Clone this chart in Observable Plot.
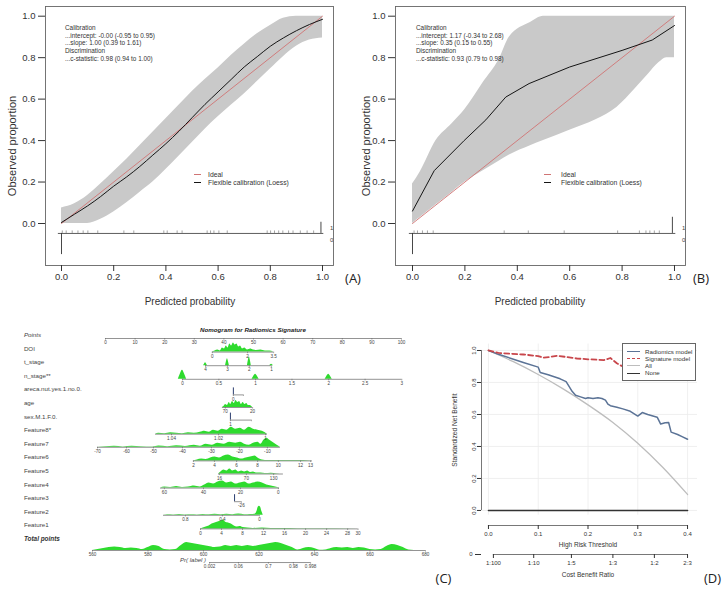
<!DOCTYPE html>
<html><head><meta charset="utf-8">
<script src="https://cdn.jsdelivr.net/npm/d3@7"></script>
<script src="https://cdn.jsdelivr.net/npm/@observablehq/plot@0.6"></script>
<style>
body{margin:0;background:#fff;}
#root{position:relative;width:724px;height:594px;overflow:hidden;font-family:"Liberation Sans",Arial,"DejaVu Sans",sans-serif;color:#333;background:#fff;}
#root svg{overflow:visible;}
</style></head><body><div id="root"></div>
<script>
const FONT = '"Liberation Sans", Arial, "DejaVu Sans", sans-serif';

// ---------- Panel A / B : calibration data ----------
const idealLine = [[0,0],[1,1]];
const calAx     = [0,0.05,0.1,0.15,0.2,0.25,0.3,0.35,0.4,0.45,0.5,0.55,0.6,0.65,0.7,0.75,0.8,0.85,0.9,0.95,1];
const calAloess = [0.005,0.045,0.085,0.13,0.18,0.225,0.275,0.33,0.385,0.445,0.51,0.575,0.635,0.695,0.755,0.805,0.855,0.895,0.93,0.96,0.985];
const calAhi    = [0.075,0.095,0.135,0.19,0.25,0.31,0.375,0.44,0.505,0.57,0.635,0.695,0.75,0.81,0.865,0.915,0.955,0.99,1,1,1];
const calAlo    = [0,0,0,0.02,0.055,0.1,0.15,0.2,0.26,0.325,0.39,0.455,0.515,0.57,0.625,0.685,0.745,0.805,0.855,0.885,0.895];
const rugA      = [0.003,0.018,0.041,0.063,0.083,0.101,0.139,0.239,0.277,0.392,0.405,0.443,0.462,0.558,0.571,0.584,0.603,0.635,0.788,0.801,0.816,0.832,0.848,0.87,0.887,0.915,0.941,0.966];

const calBx     = [0,0.03,0.09,0.15,0.2,0.27,0.33,0.37,0.45,0.5,0.6,0.7,0.78,0.85,0.9,0.94,0.97,1];
const calBhi    = [0.19,0.25,0.40,0.48,0.55,0.68,0.79,0.90,0.97,1,1,1,1,1,1,1,1,1];
const calBlo    = [0,0.03,0.09,0.15,0.2,0.255,0.30,0.33,0.375,0.40,0.45,0.50,0.56,0.65,0.72,0.775,0.80,0.80];
const calBlx    = [0,0.083,0.197,0.28,0.356,0.445,0.6,0.8,0.915,1];
const calBloess = [0.06,0.255,0.40,0.50,0.61,0.675,0.755,0.835,0.885,0.955];
const rugB      = [0.006,0.019,0.038,0.057,0.079,0.35,0.442,0.579,0.783,0.866,0.891,0.906,0.923,0.942];

const calTicks = [0,0.2,0.4,0.6,0.8,1];
const annA = ["Calibration","...intercept: -0.00 (-0.95 to 0.95)","...slope: 1.00 (0.39 to 1.61)","Discrimination","...c-statistic: 0.98 (0.94 to 1.00)"];
const annB = ["Calibration","...intercept: 1.17 (-0.34 to 2.68)","...slope: 0.35 (0.15 to 0.55)","Discrimination","...c-statistic: 0.93 (0.79 to 0.98)"];
const calLegend = ["Ideal","Flexible calibration (Loess)"];

// ---------- Panel D : decision curves ----------
const radiomicsNB = [[0,1],[0.02,0.976],[0.044,0.952],[0.07,0.925],[0.1,0.896],[0.104,0.862],[0.12,0.848],[0.144,0.823],[0.156,0.805],[0.161,0.78],[0.168,0.745],[0.175,0.72],[0.185,0.71],[0.195,0.70],[0.2,0.705],[0.21,0.70],[0.22,0.705],[0.228,0.70],[0.235,0.69],[0.24,0.665],[0.245,0.655],[0.258,0.645],[0.27,0.635],[0.285,0.62],[0.3,0.59],[0.309,0.612],[0.32,0.60],[0.339,0.583],[0.346,0.54],[0.355,0.548],[0.362,0.55],[0.367,0.49],[0.38,0.475],[0.39,0.46],[0.4,0.445]];
const signatureNB = [[0,1],[0.02,0.985],[0.044,0.98],[0.07,0.975],[0.1,0.965],[0.11,0.955],[0.125,0.96],[0.138,0.967],[0.155,0.96],[0.178,0.95],[0.2,0.945],[0.232,0.94],[0.245,0.953],[0.258,0.92],[0.27,0.9],[0.28,0.88]];
const allNB = [[0,1],[0.05,0.93],[0.1,0.85],[0.15,0.76],[0.2,0.66],[0.25,0.55],[0.3,0.42],[0.35,0.27],[0.4,0.1]];
const noneNB = [[0,0],[0.4,0]];
const thrTicks = [0,0.1,0.2,0.3,0.4];
const nbTicks = [0,0.2,0.4,0.6,0.8,1];
const cbLabels = ["1:100","1:10","1:5","1:3","1:2","2:3"];
const dcaLegend = ["Radiomics model","Signature model","All","None"];

// ---------- Panel C : nomogram ----------
const nomoRows = ["Points","DOI","t_stage","n_stage**","areca.nut.yes.1.no.0.","age","sex.M.1.F.0.","Feature8*","Feature7","Feature6","Feature5","Feature4","Feature3","Feature2","Feature1","Total points"];
const axPoints = [["0",0],["10",10],["20",20],["30",30],["40",40],["50",50],["60",60],["70",70],["80",80],["90",90],["100",100]];
const axDOI   = [["0",36.1],["2",48.0],["3.5",56.8]];
const axT     = [["4",33.8],["3",41.2],["2",48.6],["1",56.1]];
const axN     = [["0",26.0],["0.5",38.3],["1",50.7],["1.5",63.0],["2",75.4],["2.5",87.7],["3",100.1]];
const axAreca = [["0",43.2],["",46.6]];
const axAge   = [["70",40.5],["20",49.7]];
const axSex   = [["1",42.2],["",49.3]];
const axF8    = [["1.04",22.3],["1.02",38.2],["1",54.1]];
const axF7    = [["-70",-2.7],["-60",7.1],["-50",16.2],["-40",26.0],["-30",35.8],["-20",45.3],["-10",54.7]];
const axF6    = [["2",29.7],["4",36.8],["6",44.3],["8",51.4],["10",58.4],["12",65.9],["13",69.3]];
const axF5    = [["16",38.5],["70",47.6],["130",56.8]];
const axF4    = [["60",19.9],["40",33.1],["20",45.6],["0",58.4]];
const axF3    = [["-26",45.9]];
const axF2    = [["0.8",27.0],["0.4",39.5],["0",52.0]];
const axF1    = [["0",32.1],["4",39.2],["8",46.3],["12",53.4],["16",60.5],["20",67.6],["24",74.7],["28",81.8],["30",85.3]];
const axTotal = [["560",560],["580",580],["600",600],["620",620],["640",640],["660",660],["680",680]];
const axPr    = [["0.002",602.2],["0.06",612.6],["0.7",623.4],["0.98",632.4],["0.998",638.6]];
const totalToPoints = [[560,-4.39],[680,108.1]];
const rowLabelAt = -27.4; // points-scale position of the row labels' left edge

const dnDOI = [[36.1,0],[37,1],[38,2],[38.8,1],[39.5,4],[40.2,3],[40.8,6],[41.4,4],[42,8],[42.6,6],[43.2,9],[43.8,7],[44.4,8],[45,5],[45.6,6],[46.3,3],[47,4],[48,2],[49,3],[50,2],[51,1.5],[52.5,2],[54,1],[55.5,1],[56.8,0]];
const spT = [[33.8,3],[41.2,7],[48.6,9],[56.1,1.5]];
const spN = [[26.0,9,1.4],[50.7,5,1.2],[75.4,5,1.2]];
const dnAge = [[39.5,0],[40,1],[40.6,3],[41.2,2],[41.8,5],[42.3,3],[42.9,6],[43.5,4],[44.1,7],[44.7,5],[45.3,6],[45.9,3],[46.5,5],[47.1,3],[47.7,4],[48.3,2],[48.9,2],[49.7,0]];
const dnF8 = [[16.9,0],[18,1],[20,0.5],[22,1.5],[24,1],[26,0.5],[28,1.5],[30,1],[32,2],[33.5,3],[35,2],[36.5,4],[38,3],[39.5,5],[41,4],[42.5,7],[44,5],[45.5,6],[47,4],[48.5,7],[50,5],[51.5,4],[53,3],[54.7,0]];
const dnF7 = [[-2.7,0],[0,0.5],[3,1],[6,0.3],[9,1],[12,0.5],[16,0.3],[18,1.2],[21,0.5],[24,1.5],[27,0.8],[30,2],[32,1],[34,3],[36,2],[38,4],[40,3],[42,5],[44,4],[45.6,5],[47,3],[48.5,2],[50,4],[51.5,5],[52.5,3],[53.5,7],[54.5,9],[55.5,7],[57,4],[58,2],[59.1,0]];
const dnF6 = [[29.7,0],[31,1],[32.5,2],[34,1.5],[35.5,3],[37,4],[38.5,3],[40,5],[41.5,6],[43,4],[44.5,3],[46,2],[47.5,3],[49,4],[50.5,5],[51.5,3],[53,1],[55,0.5],[58,0.5],[61,0.3],[64,0.5],[67,0.3],[69.9,0]];
const dnF5 = [[38.2,0],[39,2],[40,4],[41,3],[42,5],[43,3],[44,4],[45,2],[46,3],[47,2],[48,3],[49,1.5],[50,2],[51,1],[52.5,1],[54,0.5],[56,0.8],[58,0.3],[60.1,0]];
const dnF4 = [[18.6,0],[20,1],[22,0.5],[24,1.5],[26,0.5],[28,1],[30,2],[32,1],[33.5,3],[35,5],[36.5,4],[38,6],[39.5,7],[41,5],[42.5,6],[44,4],[45.5,5],[47,6],[48.5,4],[50,5],[51.5,6],[53,5],[54.5,3],[56,2],[57.5,1],[58.8,0]];
const dnF2 = [[19.6,0],[21,0.5],[23,0.3],[25,0.8],[27,0.3],[29,0.5],[31,0.3],[33,0.8],[35,0.5],[37,1],[39,0.5],[41,1],[43,0.5],[45,1.2],[47,0.6],[49,0.8],[50.5,1],[51.2,4],[51.6,8],[52,9],[52.4,8],[52.8,4],[53.3,0]];
const dnF1 = [[32.1,0],[33,1],[34,2],[35,3],[36,5],[37,6],[38,7],[39,8],[39.8,9],[40.5,7],[41.5,6],[42.5,5],[43.5,3],[44.5,2],[45.5,2.5],[46.5,1.5],[48,1],[50,0.5],[53,0.8],[56,0.3],[60,0.3],[65,0.2],[70,0.2],[85.3,0]];
const dnTotal = [[560,0],[562,1],[564,2],[566,3],[568,3.5],[570,3],[572,2],[574,2.5],[576,2],[578,1],[580,3],[582,5],[584,4],[586,1],[588,0.5],[590,1],[592,5],[594,8],[596,7],[598,6],[600,5],[602,4],[604,3],[606,3.5],[608,5],[610,4],[612,5],[614,4],[616,5],[618,4],[620,5],[622,6],[624,7],[626,8],[628,7],[630,5],[632,3],[634,0.5],[636,2],[638,3],[640,2],[642,0.3],[644,0.5],[646,2],[648,3],[650,2.5],[652,3],[654,2],[656,3],[658,2.5],[660,1],[662,0.5],[664,1],[666,4],[668,6],[670,5],[672,3],[674,0.5],[676,0],[680,0]];
const blueSpikes = [[4,43.2],[6,42.2],[12,43.6]];

// ================= build =================
const root = document.getElementById("root");
function place(el, left, top){ el.style.position="absolute"; el.style.left=left+"px"; el.style.top=top+"px"; root.appendChild(el); }
function label(text, x, y, css={}, anchor="start", rotate=0){
  const d=document.createElement("div"); d.textContent=text;
  const tx = anchor==="middle" ? "-50%" : (anchor==="end" ? "-100%" : "0");
  Object.assign(d.style,{position:"absolute",left:x+"px",top:y+"px",whiteSpace:"pre",lineHeight:"1",
    transform:`translate(${tx},-50%)`+(rotate?` rotate(${rotate}deg)`:"")},css);
  root.appendChild(d); return d;
}
function line(x1,x2,y,color,w,dash){
  const d=document.createElement("div");
  Object.assign(d.style,{position:"absolute",left:x1+"px",top:(y-w/2)+"px",width:(x2-x1)+"px",height:"0",borderTop:`${w}px ${dash?"dashed":"solid"} ${color}`});
  root.appendChild(d);
}

function calibrationPlot({bx, lo, hi, lx, loess, rug, tallUp, tallTop, ml, mr, xDom, curve}){
  const band = bx.map((x,i)=>({x, lo:lo[i], hi:hi[i]}));
  const fit = lx.map((x,i)=>({x, y:loess[i]}));
  const rugBase = -0.048;
  return Plot.plot({
    width:362, height:290, marginLeft:ml, marginRight:mr, marginTop:6, marginBottom:25,
    x:{domain:xDom}, y:{domain:[-0.2026,1.0468]},
    style:{fontFamily:FONT, fontSize:"9.5px", color:"#333", background:"transparent", overflow:"visible"},
    marks:[
      Plot.areaY(band,{x:"x", y1:"lo", y2:"hi", fill:"#c9c9c9", curve:"monotone-x"}),
      Plot.line(idealLine,{x:d=>d[0], y:d=>d[1], stroke:"#d07474", strokeWidth:0.9}),
      Plot.line(fit,{x:"x", y:"y", stroke:"#151515", strokeWidth:1, curve}),
      Plot.ruleY([rugBase],{x1:-0.012, x2:1.005, stroke:"#333", strokeWidth:0.8}),
      Plot.ruleX(rug,{y1:rugBase, y2:rugBase+0.012, stroke:"#666", strokeWidth:0.6}),
      Plot.ruleX([tallUp],{y1:rugBase, y2:tallTop, stroke:"#333", strokeWidth:0.9}),
      Plot.ruleX([0],{y1:rugBase, y2:-0.15, stroke:"#333", strokeWidth:0.9}),
      Plot.text(["1","0"],{x:1.035, y:[-0.024,-0.082], text:d=>d, fontSize:6, fill:"#444"}),
      Plot.frame({stroke:"#666", strokeWidth:0.9}),
      Plot.axisX({ticks:calTicks, tickFormat:d3.format(".1f"), tickSize:6, tickPadding:2, label:null}),
      Plot.axisY({ticks:calTicks, tickFormat:d3.format(".1f"), tickSize:7, tickPadding:3, label:null})
    ]
  });
}

place(calibrationPlot({bx:calAx, lo:calAlo, hi:calAhi, lx:calAx, loess:calAloess, rug:rugA, tallUp:0.994, tallTop:0.006,
  ml:45, mr:29, xDom:[-0.0613,1.0421], curve:"monotone-x"}), 0, 0);
place(calibrationPlot({bx:calBx, lo:calBlo, hi:calBhi, lx:calBlx, loess:calBloess, rug:rugB, tallUp:0.992, tallTop:0.03,
  ml:33, mr:39, xDom:[-0.0649,1.042], curve:"linear"}), 362, 0);

// annotations & legends A/B
const annY = [28,35.7,43.4,51.1,58.8];
annA.forEach((t,i)=>label(t,65,annY[i],{fontSize:"6.4px",color:"#333"}));
annB.forEach((t,i)=>label(t,416,annY[i],{fontSize:"6.4px",color:"#333"}));
line(194,201,174.5,"#d07474",0.9); line(194,201,182.5,"#151515",0.9);
label(calLegend[0],208,174.5,{fontSize:"6.8px"}); label(calLegend[1],208,182.7,{fontSize:"6.8px"});
line(544,551,174.5,"#d07474",0.9); line(544,551,182.5,"#151515",0.9);
label(calLegend[0],561,174.5,{fontSize:"6.8px"}); label(calLegend[1],561,182.7,{fontSize:"6.8px"});
label("Predicted probability",190,302,{fontSize:"10px"},"middle");
label("Predicted probability",540,302,{fontSize:"10px"},"middle");
label("Observed proportion",12,146,{fontSize:"11px"},"middle",-90);
label("Observed proportion",366,146,{fontSize:"11px"},"middle",-90);

// ---------- Nomogram ----------
const ROWPX = 13.6;
const tp = d3.scaleLinear(totalToPoints.map(d=>d[0]), totalToPoints.map(d=>d[1]));
const toPts = arr => arr.map(([l,v])=>[l,tp(v)]);
const axisSpec = [
  {row:0,ticks:axPoints,off:3},{row:1,ticks:axDOI,off:3},{row:2,ticks:axT,off:3},{row:3,ticks:axN,off:3},
  {row:4,ticks:axAreca,off:5},{row:5,ticks:axAge,off:4,span:[39.5,49.7]},{row:6,ticks:axSex,off:3},
  {row:7,ticks:axF8,off:3.5,span:[16.9,54.7]},{row:8,ticks:axF7,off:3,span:[-2.7,59.1]},{row:9,ticks:axF6,off:3,span:[29.7,69.9]},
  {row:10,ticks:axF5,off:2.5,span:[38.2,60.1]},{row:11,ticks:axF4,off:3,span:[18.6,58.8]},{row:12,ticks:axF3,off:3,span:[43.6,45.9]},
  {row:13,ticks:axF2,off:3,span:[19.6,52.0]},{row:14,ticks:axF1,off:3,span:[32.1,85.3]},
  {row:15,ticks:toPts(axTotal),off:11},{row:16.62,ticks:toPts(axPr),off:1}
];
axisSpec.forEach(a=>a.base=a.row+a.off/ROWPX);
const tickFlat = axisSpec.flatMap(a=>a.ticks.map(([lab,at])=>({lab,at,base:a.base})));
const lineFlat = axisSpec.map(a=>{const v=a.ticks.map(t=>t[1]); const s=a.span||[d3.min(v),d3.max(v)]; return {x1:s[0],x2:s[1],base:a.base};});
const bump = (c,h,w)=>[[c-w,0],[c-w*0.5,h*0.6],[c,h],[c+w*0.5,h*0.6],[c+w,0]];
const baseOf = r=>axisSpec.find(a=>a.row===r).base;
const densSpec = [
  {id:"DOI",row:1,pts:dnDOI},
  ...spT.map((s,i)=>({id:"t"+i,row:2,pts:bump(s[0],s[1],0.65)})),
  ...spN.map((s,i)=>({id:"n"+i,row:3,pts:bump(s[0],s[1],s[2])})),
  {id:"age",row:5,pts:dnAge},{id:"F8",row:7,pts:dnF8},{id:"F7",row:8,pts:dnF7},{id:"F6",row:9,pts:dnF6},
  {id:"F5",row:10,pts:dnF5},{id:"F4",row:11,pts:dnF4},{id:"F2",row:13,pts:dnF2},{id:"F1",row:14,pts:dnF1},
  {id:"tot",row:15,pts:dnTotal.map(([v,h])=>[tp(v),h])}
];
const densFlat = densSpec.flatMap(s=>{const b=baseOf(s.row); return s.pts.map(([x,h])=>({g:s.id,x,base:b,top:b-h/ROWPX}));});
const blueFlat = blueSpikes.map(([r,x])=>({x,base:baseOf(r)}));

const nomo = Plot.plot({
  width:470, height:274, marginLeft:0, marginRight:0, marginTop:0, marginBottom:0,
  x:{domain:[-35.47,123.31], range:[0,470]}, y:{domain:[-1.103,19.044], range:[0,274]},
  style:{fontFamily:FONT, fontSize:"6px", color:"#444", background:"transparent", overflow:"visible"},
  marks:[
    Plot.areaY(densFlat,{x:"x", y1:"base", y2:"top", z:"g", fill:"#2edb2e", curve:"monotone-x"}),
    Plot.ruleX(blueFlat,{x:"x", y1:"base", y2:d=>d.base-7/ROWPX, stroke:"#2c3e70", strokeWidth:1}),
    Plot.ruleY(lineFlat,{y:"base", x1:"x1", x2:"x2", stroke:"#666", strokeWidth:0.7}),
    Plot.ruleX(tickFlat,{x:"at", y1:"base", y2:d=>d.base+1.6/ROWPX, stroke:"#666", strokeWidth:0.6}),
    Plot.text(tickFlat,{x:"at", y:d=>d.base+4.2/ROWPX, text:"lab", fontSize:4.6, fill:"#444"})
  ]
});
place(nomo, 0, 320);
// labels placed through the nomogram's own scales
const nx = nomo.scale("x"), ny = nomo.scale("y");
label("Nomogram for Radiomics Signature", nx.apply((axPoints[0][1]+axPoints[axPoints.length-1][1])/2), 320+ny.apply(-0.37),
  {fontSize:"6.2px",fontStyle:"italic",fontWeight:"bold",color:"#222"}, "middle");
nomoRows.forEach((name,i)=>{
  const css = {fontSize:"6.2px", color:"#444"};
  if (i===0) css.fontStyle="italic";
  if (i===15) Object.assign(css,{fontStyle:"italic",fontWeight:"bold",fontSize:"6.4px",color:"#333"});
  label(name, nx.apply(rowLabelAt), 320+ny.apply(i), css);
});
label("Pr( label )", nx.apply(tp(axPr[0][1]))-3, 320+ny.apply(16.55), {fontSize:"6px",fontStyle:"italic",color:"#444"}, "end");

// ---------- Decision curve ----------
const dcaMain = Plot.plot({
  width:284, height:220, marginLeft:41, marginRight:27, marginTop:13.6, marginBottom:25,
  x:{domain:[-0.014,0.42]}, y:{domain:[-0.094,1.04]},
  style:{fontFamily:FONT, fontSize:"6px", color:"#333", background:"transparent", overflow:"visible"},
  marks:[
    Plot.ruleX(thrTicks,{y1:-0.03, y2:1.04, stroke:"#ececec", strokeWidth:0.8}),
    Plot.ruleY(nbTicks,{x1:-0.014, x2:0.42, stroke:"#ececec", strokeWidth:0.8}),
    Plot.line(allNB,{x:d=>d[0], y:d=>d[1], stroke:"#bdbdbd", strokeWidth:1.3, curve:"monotone-x"}),
    Plot.line(noneNB,{x:d=>d[0], y:d=>d[1], stroke:"#333", strokeWidth:1.6}),
    Plot.line(radiomicsNB,{x:d=>d[0], y:d=>d[1], stroke:"#5b7396", strokeWidth:1.5}),
    Plot.line(signatureNB,{x:d=>d[0], y:d=>d[1], stroke:"#c8464b", strokeWidth:1.8, strokeDasharray:"5,3"}),
    Plot.ruleX([-0.014],{y1:0, y2:1, stroke:"#555", strokeWidth:0.8}),
    Plot.ruleY([-0.094],{x1:0, x2:0.4, stroke:"#555", strokeWidth:0.8}),
    Plot.axisY({ticks:nbTicks, tickFormat:d3.format(".1f"), tickSize:4, tickPadding:2, tickRotate:-90, label:null}),
    Plot.axisX({ticks:thrTicks, tickFormat:d3.format(".1f"), tickSize:4, tickPadding:2, label:null})
  ]
});
place(dcaMain, 440, 330);

const cbT = cbLabels.map(s=>{const [a,b]=s.split(":").map(Number); return a/(a+b);});
const dcaCB = Plot.plot({
  width:284, height:54, marginLeft:41, marginRight:27, marginTop:4, marginBottom:40,
  x:{domain:[-0.014,0.42]}, y:{domain:[0,1]},
  style:{fontFamily:FONT, fontSize:"6px", color:"#333", background:"transparent", overflow:"visible"},
  marks:[
    Plot.ruleY([0],{x1:cbT[0], x2:cbT[cbT.length-1], stroke:"#555", strokeWidth:0.8}),
    Plot.axisX({ticks:cbT, tickFormat:d=>cbLabels[cbT.indexOf(d)], tickSize:4, tickPadding:2, label:null})
  ]
});
place(dcaCB, 440, 540);

label("Standardized Net Benefit",455,430,{fontSize:"6.6px"},"middle",-90);
label("High Risk Threshold",588,545,{fontSize:"6.5px"},"middle");
label("Cost Benefit Ratio",588,574.5,{fontSize:"6.5px"},"middle");

// DCA legend
const lg=document.createElement("div");
Object.assign(lg.style,{position:"absolute",left:"622px",top:"343px",width:"74px",height:"38px",border:"0.8px solid #666",background:"#fff",boxSizing:"border-box"});
root.appendChild(lg);
const lgY=[352,359,366,373.3];
line(627,640,lgY[0],"#5b7396",1.5); line(627,640,lgY[1],"#c8464b",1.8,true); line(627,640,lgY[2],"#bdbdbd",1.3); line(627,640,lgY[3],"#333",1.5);
dcaLegend.forEach((t,i)=>label(t,645,lgY[i],{fontSize:"6.2px"}));

// panel letters
[["(A)",353,277.5],["(B)",701,277.5],["(C)",443.5,578],["(D)",712.5,578]].forEach(([t,x,y])=>label(t,x,y,{fontSize:"13px",fontFamily:'"Open Sans", "Liberation Sans", sans-serif',color:"#222"},"middle"));
</script></body></html>
